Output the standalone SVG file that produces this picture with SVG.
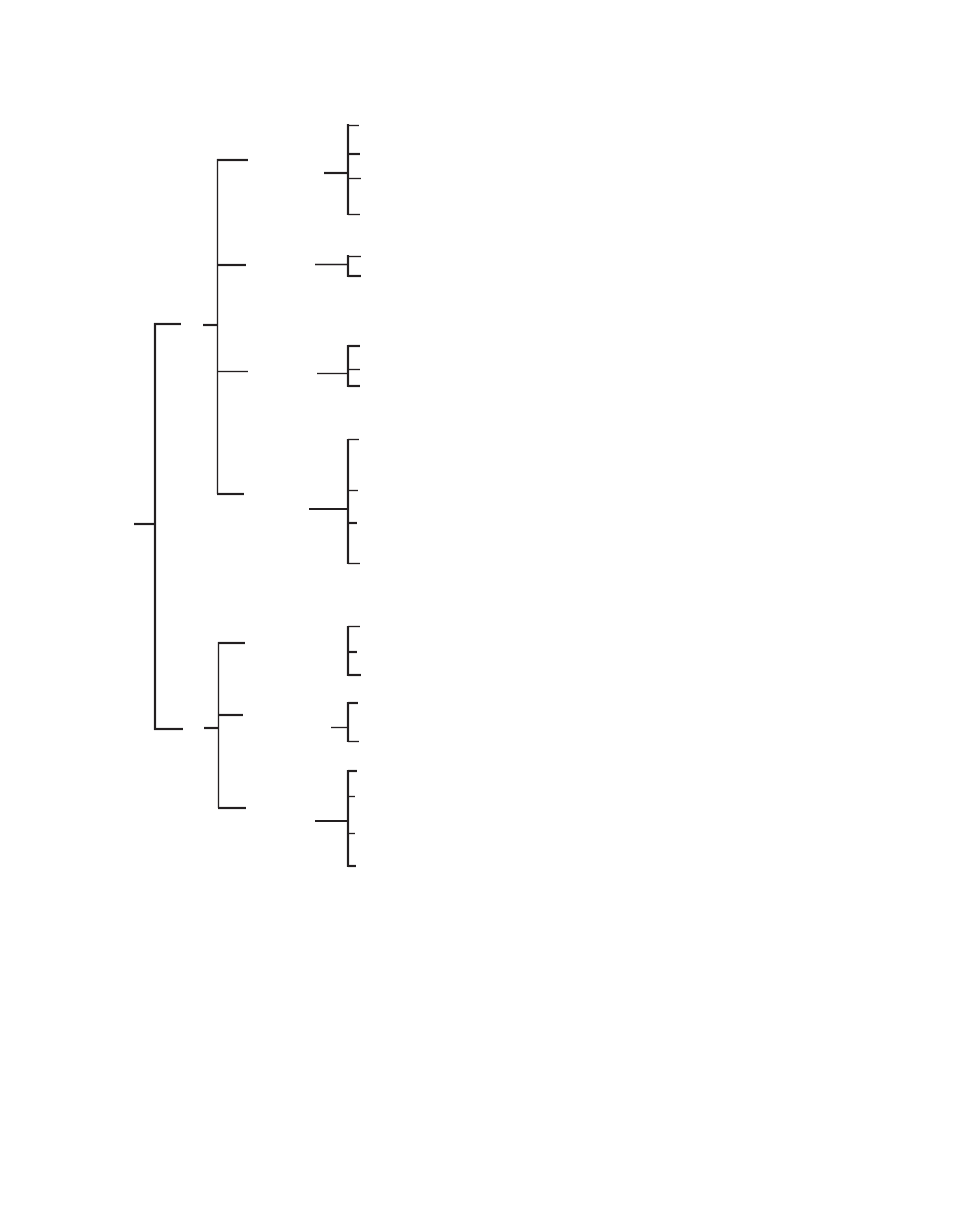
<svg xmlns="http://www.w3.org/2000/svg" width="954" height="1221" viewBox="0 0 954 1221">
<style>
line{stroke:#231f20;stroke-linecap:butt;fill:none}
.k{stroke-width:2.2}
.t{stroke-width:1.3}
</style>
<rect width="954" height="1221" fill="#fff"/>
<g id="connectors">
<g id="root">
<line class="k" x1="134" y1="524" x2="155" y2="524"/>
<line class="k" x1="155" y1="323" x2="155" y2="730"/>
<line class="k" x1="154" y1="324" x2="181" y2="324"/>
<line class="k" x1="154" y1="729" x2="183" y2="729"/>
</g>
<g id="branch-a">
<line class="k" x1="203" y1="325" x2="218" y2="325"/>
<line class="t" x1="217.5" y1="159" x2="217.5" y2="494"/>
<line class="k" x1="217" y1="160" x2="248" y2="160"/>
<line class="k" x1="217" y1="265" x2="246" y2="265"/>
<line class="t" x1="217" y1="371.5" x2="248" y2="371.5"/>
<line class="k" x1="217" y1="494" x2="244" y2="494"/>
</g>
<g id="branch-b">
<line class="k" x1="204" y1="728" x2="218" y2="728"/>
<line class="t" x1="218.5" y1="642" x2="218.5" y2="808"/>
<line class="k" x1="218" y1="643" x2="245" y2="643"/>
<line class="k" x1="218" y1="715" x2="243" y2="715"/>
<line class="k" x1="218" y1="808" x2="246" y2="808"/>
</g>
<g id="group-1">
<line class="k" x1="324" y1="173" x2="348" y2="173"/>
<line class="k" x1="348" y1="124" x2="348" y2="215"/>
<line class="t" x1="348" y1="125.5" x2="359" y2="125.5"/>
<line class="k" x1="348" y1="154" x2="360" y2="154"/>
<line class="t" x1="348" y1="178.5" x2="361" y2="178.5"/>
<line class="t" x1="348" y1="214.5" x2="360" y2="214.5"/>
</g>
<g id="group-2">
<line class="t" x1="315" y1="264.5" x2="348" y2="264.5"/>
<line class="k" x1="348" y1="255" x2="348" y2="277"/>
<line class="t" x1="348" y1="256.5" x2="361" y2="256.5"/>
<line class="k" x1="348" y1="276" x2="361" y2="276"/>
</g>
<g id="group-3">
<line class="t" x1="317" y1="373.5" x2="348" y2="373.5"/>
<line class="k" x1="348" y1="345" x2="348" y2="387"/>
<line class="k" x1="348" y1="346" x2="360" y2="346"/>
<line class="t" x1="348" y1="369.5" x2="360" y2="369.5"/>
<line class="k" x1="348" y1="386" x2="360" y2="386"/>
</g>
<g id="group-4">
<line class="k" x1="309" y1="509" x2="348" y2="509"/>
<line class="k" x1="348" y1="439" x2="348" y2="564"/>
<line class="t" x1="348" y1="439.5" x2="359" y2="439.5"/>
<line class="t" x1="348" y1="490.5" x2="358" y2="490.5"/>
<line class="k" x1="348" y1="523" x2="357" y2="523"/>
<line class="t" x1="348" y1="563.5" x2="360" y2="563.5"/>
</g>
<g id="group-5">
<line class="k" x1="348" y1="626" x2="348" y2="676"/>
<line class="t" x1="348" y1="626.5" x2="360" y2="626.5"/>
<line class="k" x1="348" y1="652" x2="357" y2="652"/>
<line class="k" x1="348" y1="675" x2="361" y2="675"/>
</g>
<g id="group-6">
<line class="t" x1="331" y1="727.5" x2="348" y2="727.5"/>
<line class="k" x1="348" y1="702" x2="348" y2="742"/>
<line class="k" x1="348" y1="703" x2="358" y2="703"/>
<line class="t" x1="348" y1="741.5" x2="359" y2="741.5"/>
</g>
<g id="group-7">
<line class="k" x1="315" y1="821" x2="348" y2="821"/>
<line class="k" x1="348" y1="770" x2="348" y2="867"/>
<line class="k" x1="348" y1="771" x2="357" y2="771"/>
<line class="t" x1="348" y1="796.5" x2="355" y2="796.5"/>
<line class="t" x1="348" y1="833.5" x2="355" y2="833.5"/>
<line class="k" x1="348" y1="866" x2="356" y2="866"/>
</g>
</g>
</svg>
